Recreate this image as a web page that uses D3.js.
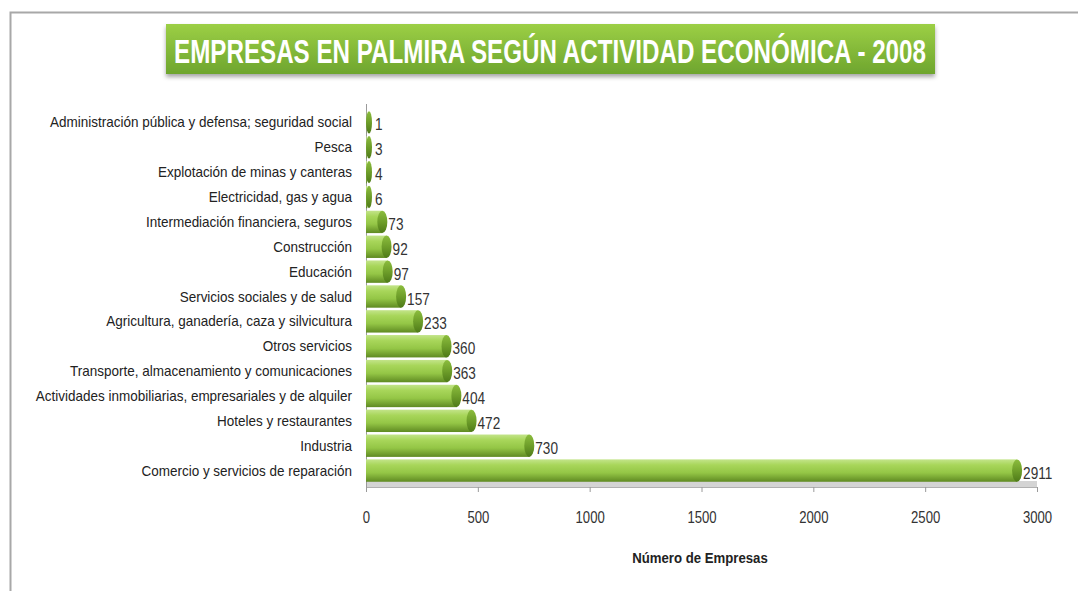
<!DOCTYPE html>
<html><head><meta charset="utf-8">
<script src="https://cdn.jsdelivr.net/npm/d3@7"></script>
<style>body{margin:0;background:#fff;}svg{display:block;}</style>
</head><body>
<svg id="c" width="1078" height="591"></svg>
<script>
const categories = [
  "Administración pública y defensa; seguridad social",
  "Pesca",
  "Explotación de minas y canteras",
  "Electricidad, gas y agua",
  "Intermediación financiera, seguros",
  "Construcción",
  "Educación",
  "Servicios sociales y de salud",
  "Agricultura, ganadería, caza y silvicultura",
  "Otros servicios",
  "Transporte, almacenamiento y comunicaciones",
  "Actividades inmobiliarias, empresariales y de alquiler",
  "Hoteles y restaurantes",
  "Industria",
  "Comercio y servicios de reparación"
];
const values = [1, 3, 4, 6, 73, 92, 97, 157, 233, 360, 363, 404, 472, 730, 2911];
const xTicks = [0, 500, 1000, 1500, 2000, 2500, 3000];
const title = "EMPRESAS EN PALMIRA SEGÚN ACTIVIDAD ECONÓMICA - 2008";
const xTitle = "Número de Empresas";

const FONT = "Liberation Sans, Arial, sans-serif";
const svg = d3.select("#c");
const defs = svg.append("defs");
const g1 = defs.append("linearGradient").attr("id","bar").attr("x1",0).attr("y1",0).attr("x2",0).attr("y2",1);
[["0%","#c3e48a"],["25%","#a8d65a"],["60%","#94c646"],["100%","#5f8a22"]].forEach(s=>g1.append("stop").attr("offset",s[0]).attr("stop-color",s[1]));
const g2 = defs.append("linearGradient").attr("id","cap").attr("x1",0).attr("y1",0).attr("x2",0).attr("y2",1);
[["0%","#8cbd3e"],["50%","#6e9e2a"],["100%","#4e7a18"]].forEach(s=>g2.append("stop").attr("offset",s[0]).attr("stop-color",s[1]));
const g3 = defs.append("linearGradient").attr("id","ban").attr("x1",0).attr("y1",0).attr("x2",0).attr("y2",1);
[["0%","#9ccf45"],["100%","#6ea52e"]].forEach(s=>g3.append("stop").attr("offset",s[0]).attr("stop-color",s[1]));
const f = defs.append("filter").attr("id","sh").attr("x","-5%").attr("y","-20%").attr("width","110%").attr("height","160%");
f.append("feDropShadow").attr("dx",0).attr("dy",3).attr("stdDeviation",2).attr("flood-color","#000").attr("flood-opacity",0.35);

// frame
svg.append("path").attr("d","M10.5,600 V12.5 H1090").attr("fill","none").attr("stroke","#a8a8a8").attr("stroke-width",2);

// banner
svg.append("rect").attr("x",166).attr("y",24).attr("width",769).attr("height",50).attr("fill","url(#ban)").attr("filter","url(#sh)");
const tt = svg.append("text").attr("text-anchor","middle")
  .attr("font-family",FONT).attr("font-weight","bold")
  .attr("font-size",34).attr("fill","#fff").text(title);
const tw = tt.node().getComputedTextLength();
tt.attr("transform",`translate(550,63) scale(${752/tw},1)`);

const x = d3.scaleLinear().domain([0,3000]).range([366,1037]);
const y = d3.scaleBand().domain(categories).range([110,483]).paddingInner(0.1).paddingOuter(0.05);

// floor
svg.append("rect").attr("x",366).attr("y",481).attr("width",671).attr("height",6).attr("fill","#d4d4d4");
svg.append("line").attr("x1",366).attr("x2",1037).attr("y1",487.5).attr("y2",487.5).attr("stroke","#b0b0b0");

// y axis line
svg.append("line").attr("x1",366.5).attr("x2",366.5).attr("y1",104).attr("y2",490).attr("stroke","#9a9a9a");

// x axis
const xa = svg.append("g").attr("transform","translate(0,487)")
  .call(d3.axisBottom(x).tickValues(xTicks).tickSize(5).tickPadding(20).tickFormat(d3.format("d")));
xa.select(".domain").remove();
xa.selectAll("line").attr("stroke","#9a9a9a");
xa.selectAll("text").attr("font-family",FONT).attr("font-size",16).attr("fill","#333").attr("transform","scale(0.82,1)");

svg.append("text").attr("transform","translate(700,563) scale(0.88,1)").attr("text-anchor","middle")
  .attr("font-family",FONT).attr("font-weight","bold").attr("font-size",15).attr("fill","#222").text(xTitle);

// category labels
svg.append("g").selectAll("text").data(categories).join("text")
  .attr("transform",d=>`translate(352,${y(d)+y.bandwidth()/2+5}) scale(0.9,1)`).attr("text-anchor","end")
  .attr("font-family",FONT).attr("font-size",15).attr("fill","#222").text(d=>d);

// bars
const h = y.bandwidth();
const bars = svg.append("g").selectAll("g").data(categories.map((c,i)=>({c,v:values[i]}))).join("g");
bars.append("rect").attr("x",x(0)).attr("y",d=>y(d.c)).attr("width",d=>Math.max(0,x(d.v)-x(0))).attr("height",h).attr("fill","url(#bar)");
bars.append("ellipse").attr("cx",d=>Math.max(x(d.v),x(0)+3)).attr("cy",d=>y(d.c)+h/2).attr("rx",d=>x(d.v)-x(0)<6?3:5).attr("ry",h/2).attr("fill","url(#cap)");
bars.append("text").attr("transform",d=>`translate(${Math.max(x(d.v),x(0)+3)+6},${y(d.c)+h/2+8}) scale(0.85,1)`)
  .attr("font-family",FONT).attr("font-size",16).attr("fill","#333").text(d=>d.v);
</script>
</body></html>
